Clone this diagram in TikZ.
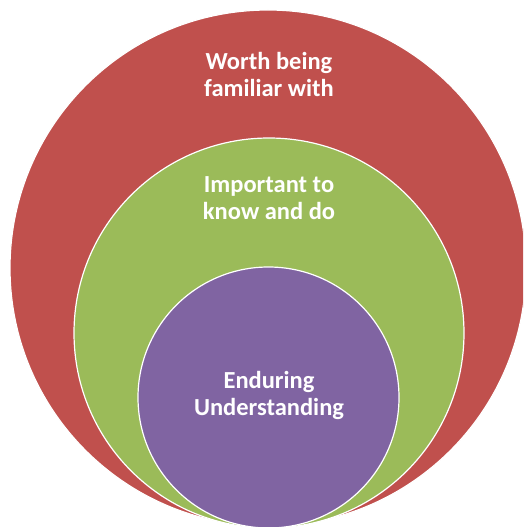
\documentclass[tikz,border=0pt]{standalone}
\usepackage{fontspec}
\newfontfamily\ringfont{Carlito}
\definecolor{ringred}{HTML}{C0504D}
\definecolor{ringgreen}{HTML}{9BBB59}
\definecolor{ringpurple}{HTML}{8064A2}
\tikzset{
    ring/.style={circle, draw=white, line width=1.2pt, inner sep=0pt},
    ringtext/.style={text=white, align=center, font=\ringfont\bfseries\fontsize{24.5}{27}\selectfont}
}
\begin{document}
\begin{tikzpicture}[x=1pt, y=-1pt]
        \path[use as bounding box, clip] (0, 0) rectangle (523, 527);
        \fill[white] (0, 0) rectangle (523, 527);

        \node[ring, fill=ringred, minimum size=516pt] (worth) at (268, 268) {};
        \node[ring, fill=ringgreen, minimum size=390pt] (important) at (269, 333) {};
        \node[ring, fill=ringpurple, minimum size=261pt] (enduring) at (268.5, 397.5) {};

        \node[ringtext] (worthtext) at (269, 74) {Worth being\\familiar with};
        \node[ringtext] (importanttext) at (269, 198) {Important to\\know and do};
        \node[ringtext] (enduringtext) at (269, 395.5) {Enduring\\Understanding};
    \end{tikzpicture}
\end{document}
